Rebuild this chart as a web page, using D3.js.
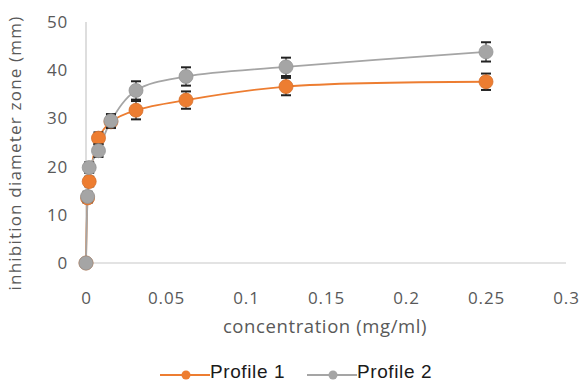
<!DOCTYPE html>
<html><head><meta charset="utf-8">
<script src="https://cdn.jsdelivr.net/npm/d3@7"></script>
<style>html,body{margin:0;padding:0;background:#fff;}svg{display:block;}</style>
</head><body>
<svg id="c" width="583" height="385"></svg>
<script>
const concentration = [0, 0.001, 0.002, 0.0078, 0.0156, 0.03125, 0.0625, 0.125, 0.25];
const profile1 = [0, 13.5, 16.9, 25.9, 29.3, 31.7, 33.8, 36.6, 37.6];
const profile1Err = [0, 1.0, 1.0, 1.2, 1.3, 1.9, 1.8, 1.8, 1.7];
const profile2 = [0, 13.8, 19.8, 23.3, 29.5, 35.8, 38.7, 40.7, 43.8];
const profile2Err = [0, 1.0, 1.1, 1.3, 1.4, 1.9, 1.9, 1.9, 2.0];
const xTicks = [0, 0.05, 0.1, 0.15, 0.2, 0.25, 0.3];
const yTicks = [0, 10, 20, 30, 40, 50];
const seriesNames = ["Profile 1", "Profile 2"];
const seriesColors = ["#ED7D31", "#A5A5A5"];

const svg = d3.select("#c");
const x = d3.scaleLinear().domain([0, 0.3]).range([86, 566]);
const y = d3.scaleLinear().domain([0, 50]).range([263, 22]);
const font = "'Open Sans', 'Noto Sans', sans-serif";

// axis lines
svg.append("line").attr("x1", x(0)).attr("x2", x(0.3)).attr("y1", y(0)).attr("y2", y(0))
  .attr("stroke", "#c8c8c8").attr("stroke-width", 1.2);
svg.append("line").attr("x1", x(0)).attr("x2", x(0)).attr("y1", y(0)).attr("y2", y(50))
  .attr("stroke", "#c8c8c8").attr("stroke-width", 1.2);

// tick labels
const xAxis = d3.axisBottom(x).tickValues(xTicks).tickSize(0).tickPadding(0)
  .tickFormat(d => d3.format("")(d));
const gx = svg.append("g").attr("transform", `translate(0,${y(0) + 35})`).call(xAxis);
gx.select(".domain").remove();
gx.selectAll("text").attr("font-family", font).attr("font-size", 17).attr("letter-spacing", 0.8)
  .attr("fill", "#595959").attr("dy", "0.35em").attr("y", 0);

const yAxis = d3.axisLeft(y).tickValues(yTicks).tickSize(0).tickPadding(0);
const gy = svg.append("g").attr("transform", `translate(68,0)`).call(yAxis);
gy.select(".domain").remove();
gy.selectAll("text").attr("font-family", font).attr("font-size", 17).attr("letter-spacing", 0.8)
  .attr("fill", "#595959").attr("x", 0);

// axis titles
svg.append("text").attr("x", 325).attr("y", 327).attr("dy", "0.35em").attr("text-anchor", "middle")
  .attr("font-family", font).attr("font-size", 18.5).attr("letter-spacing", 0.6).attr("fill", "#595959")
  .text("concentration (mg/ml)");
svg.append("text").attr("transform", "translate(21,153) rotate(-90)").attr("text-anchor", "middle")
  .attr("font-family", font).attr("font-size", 17).attr("fill", "#595959").attr("letter-spacing", 1.2)
  .text("inhibition diameter zone (mm)");

const line = d3.line().x(d => x(d[0])).y(d => y(d[1])).curve(d3.curveCatmullRom.alpha(0.5));
const series = [
  {name: seriesNames[0], color: seriesColors[0], vals: profile1, err: profile1Err},
  {name: seriesNames[1], color: seriesColors[1], vals: profile2, err: profile2Err}
];

series.forEach(s => {
  const pts = concentration.map((c, i) => [c, s.vals[i], s.err[i]]);
  svg.append("path").datum(pts).attr("d", line).attr("fill", "none")
    .attr("stroke", s.color).attr("stroke-width", 1.8);
});

series.forEach(s => {
  const pts = concentration.map((c, i) => [c, s.vals[i], s.err[i]]);
  const g = svg.append("g");
  // error bars
  pts.filter(d => d[2] > 0).forEach(d => {
    const cx = x(d[0]), y1 = y(d[1] + d[2]), y2 = y(d[1] - d[2]);
    g.append("line").attr("x1", cx).attr("x2", cx).attr("y1", y1).attr("y2", y2).attr("stroke", "#222").attr("stroke-width", 1.2);
    [y1, y2].forEach(yy => g.append("line").attr("x1", cx - 5).attr("x2", cx + 5).attr("y1", yy).attr("y2", yy)
      .attr("stroke", "#222").attr("stroke-width", 2));
  });
  g.selectAll("circle").data(pts).join("circle")
    .attr("cx", d => x(d[0])).attr("cy", d => y(d[1])).attr("r", 7)
    .attr("fill", s.color).attr("stroke", d3.color(s.color).darker(0.3)).attr("stroke-width", 0.8);
});

// legend
const legendX = [160, 307];
series.forEach((s, i) => {
  const lx = legendX[i], ly = 375;
  svg.append("line").attr("x1", lx).attr("x2", lx + 50).attr("y1", ly).attr("y2", ly)
    .attr("stroke", s.color).attr("stroke-width", 1.8);
  svg.append("circle").attr("cx", lx + 26).attr("cy", ly).attr("r", 4.5).attr("fill", s.color);
  svg.append("text").attr("x", lx + 50).attr("y", 371).attr("dy", "0.35em")
    .attr("font-family", "'Liberation Sans', Arial, sans-serif").attr("font-size", 19).attr("letter-spacing", 0.6)
    .attr("fill", "#1a1a1a")
    .text(s.name);
});
</script>
</body></html>
